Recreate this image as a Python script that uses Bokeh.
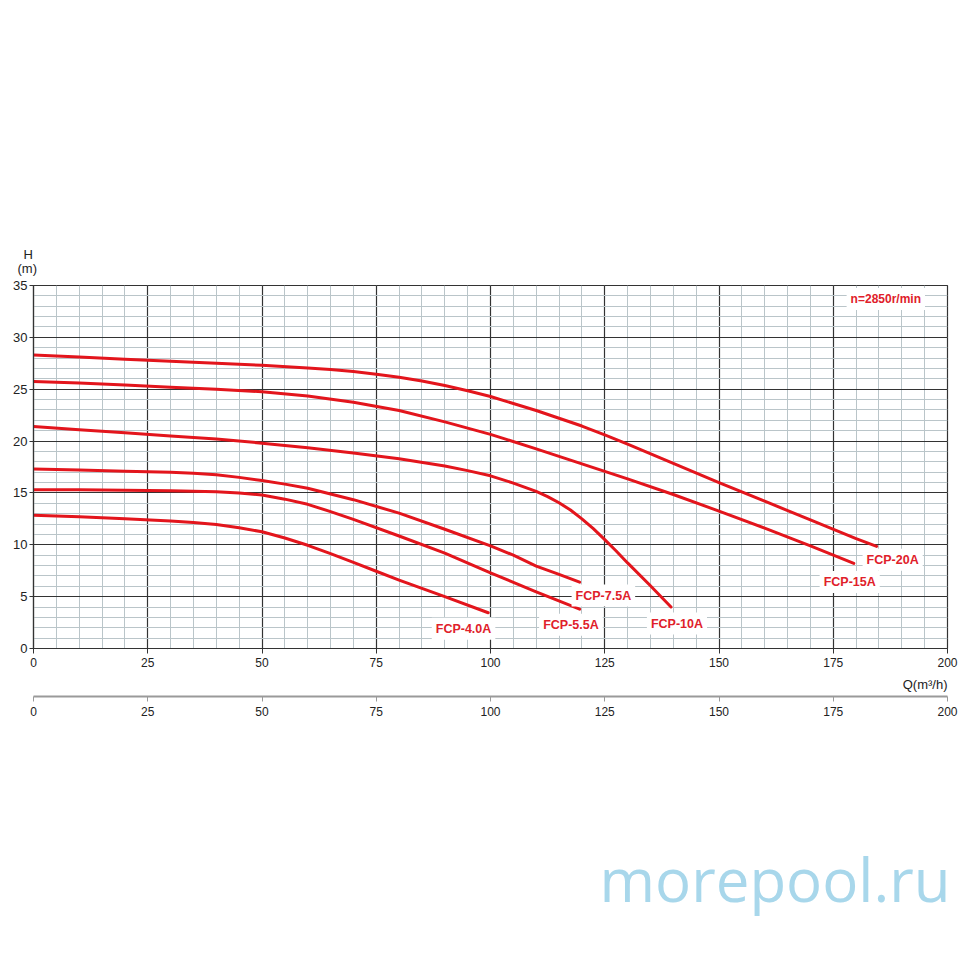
from bokeh.plotting import figure
from bokeh.models import Range1d, SingleIntervalTicker, LinearAxis, Title
from bokeh.core.properties import value
from bokeh.embed import file_html
from bokeh.resources import INLINE

# ---- data (Q in m3/h, H in m) ----
q_20 = [0, 10, 20, 30, 40, 50, 60, 65, 70, 75, 80, 85, 90, 95, 100, 110, 120, 125, 130, 140,
        150, 160, 170, 180, 184.5]
h_20 = [28.3, 28.1, 27.9, 27.7, 27.5, 27.3, 27.05, 26.9, 26.7, 26.45, 26.15, 25.8, 25.35,
        24.85, 24.3, 22.95, 21.45, 20.6, 19.7, 17.85, 16.0, 14.2, 12.4, 10.6, 9.85]

q_15 = [0, 10, 20, 30, 40, 50, 60, 70, 80, 90, 100, 110, 120, 130, 140, 150, 160, 170, 179.5]
h_15 = [25.75, 25.6, 25.4, 25.2, 25.0, 24.75, 24.35, 23.75, 22.95, 21.85, 20.65, 19.25,
        17.8, 16.35, 14.85, 13.25, 11.6, 9.9, 8.2]

q_10 = [0, 10, 20, 30, 40, 50, 60, 70, 80, 90, 95, 100, 105, 110, 112.5, 115, 117.5, 120,
        122.5, 125, 127.5, 130, 135, 139.5]
h_10 = [21.4, 21.1, 20.8, 20.5, 20.2, 19.8, 19.35, 18.85, 18.3, 17.6, 17.15, 16.65, 15.95,
        15.15, 14.65, 14.05, 13.35, 12.5, 11.55, 10.5, 9.4, 8.25, 6.05, 4.0]

q_75 = [0, 10, 20, 30, 35, 40, 45, 50, 55, 60, 70, 80, 90, 100, 105, 110, 115, 119.5]
h_75 = [17.3, 17.2, 17.1, 17.0, 16.9, 16.75, 16.5, 16.2, 15.85, 15.45, 14.35, 13.05, 11.5,
        9.9, 9.0, 7.95, 7.15, 6.4]

q_55 = [0, 10, 20, 30, 40, 45, 50, 55, 60, 65, 70, 80, 90, 100, 110, 119.5]
h_55 = [15.3, 15.3, 15.27, 15.22, 15.12, 15.0, 14.8, 14.4, 13.9, 13.2, 12.45, 10.85, 9.2,
        7.3, 5.45, 3.8]

q_40 = [0, 10, 20, 30, 35, 40, 45, 50, 55, 60, 65, 70, 75, 80, 90, 99.5]
h_40 = [12.85, 12.7, 12.5, 12.3, 12.15, 11.95, 11.65, 11.25, 10.65, 9.95, 9.15, 8.3, 7.45,
        6.6, 5.0, 3.45]

series_q = [q_40, q_55, q_75, q_10, q_15, q_20]
series_h = [h_40, h_55, h_75, h_10, h_15, h_20]

label_names = ["FCP-4.0A", "FCP-5.5A", "FCP-7.5A", "FCP-10A", "FCP-15A", "FCP-20A"]
label_q = [94.1, 117.6, 124.7, 140.8, 178.6, 188.0]
label_h = [1.9, 2.3, 5.1, 2.4, 6.4, 8.55]

speed_text = "n=2850r/min"
x_title = "Q(m³/h)"
y_title = "H"
y_unit = "(m)"
watermark = "morepool.ru"

RED = "#e3151c"
TXT_RED = "#e0202a"
FONT = "Liberation Sans"

p = figure(width=962, height=950,
           x_range=Range1d(0, 200), y_range=Range1d(0, 35),
           output_backend="svg", toolbar_location=None,
           min_border_left=33, min_border_right=15,
           min_border_top=285, min_border_bottom=302)
p.background_fill_color = "white"
p.border_fill_color = "white"
p.outline_line_color = "#333333"
p.outline_line_width = 1.2

xt = SingleIntervalTicker(interval=25, num_minor_ticks=5)
yt = SingleIntervalTicker(interval=5, num_minor_ticks=5)
p.xaxis.ticker = xt
p.yaxis.ticker = yt
p.xgrid.ticker = xt
p.ygrid.ticker = yt

for g in (p.xgrid, p.ygrid):
    g.grid_line_color = "#333333"
    g.grid_line_width = 1.2
    g.grid_line_alpha = 1.0
    g.minor_grid_line_color = "#bac5c9"
    g.minor_grid_line_width = 1

for ax in (p.xaxis, p.yaxis):
    ax.axis_line_color = "#333333"
    ax.axis_line_width = 1.2
    ax.major_tick_line_color = "#333333"
    ax.major_tick_in = 0
    ax.minor_tick_line_color = None
    ax.major_label_text_font = FONT
    ax.major_label_text_color = "#222222"

p.xaxis.major_label_text_font_size = "12px"
p.yaxis.major_label_text_font_size = "13px"
p.xaxis.major_tick_out = 5
p.xaxis.major_label_standoff = 4
p.yaxis.major_tick_out = 4
p.yaxis.major_label_standoff = 2

for q, h in zip(series_q, series_h):
    p.line(q, h, line_color=RED, line_width=3, line_join="round", line_cap="round")

p.text(x=label_q, y=label_h, text=label_names,
       text_font=value(FONT), text_font_style="bold", text_font_size="12.5px",
       text_color=TXT_RED, text_align="center", text_baseline="middle",
       background_fill_color="white", padding=4)

p.text(x=[186.5], y=[33.7], text=[speed_text],
       text_font=value(FONT), text_font_style="bold", text_font_size="12px",
       text_color=TXT_RED, text_align="center", text_baseline="middle",
       background_fill_color="white", padding=4)

# y axis title (stacked above the frame, top-left)
p.add_layout(Title(text=y_unit, align="left", offset=-16, standoff=19,
                   text_font=FONT, text_font_size="13px", text_font_style="normal",
                   text_color="#222222"), "above")
p.add_layout(Title(text=y_title, align="left", offset=-10, standoff=-24,
                   text_font=FONT, text_font_size="13px", text_font_style="normal",
                   text_color="#222222"), "above")

# x axis title, right aligned between the two axes
p.add_layout(Title(text=x_title, align="right", text_font=FONT, text_font_size="13px",
                   text_font_style="normal", text_color="#222222"), "below")

ax2 = LinearAxis(ticker=SingleIntervalTicker(interval=25, num_minor_ticks=0),
                 axis_line_color="#9a9a9a", axis_line_width=2,
                 major_tick_line_color="#9a9a9a", major_tick_in=0, major_tick_out=5,
                 minor_tick_line_color=None,
                 major_label_text_font=FONT, major_label_text_font_size="12px",
                 major_label_text_color="#222222", major_label_standoff=5)
p.add_layout(ax2, "below")

# vertical spacer between the lower axis and the watermark
p.add_layout(Title(text=" ", standoff=114, text_font=FONT, text_font_size="1px"), "below")

# watermark
p.add_layout(Title(text=watermark, align="right", standoff=0, offset=-3,
                   text_font="Open Sans", text_font_size="60px", text_font_style="normal",
                   text_color="#a8d7eb"), "below")

open("out.html", "w").write(file_html(p, INLINE))
